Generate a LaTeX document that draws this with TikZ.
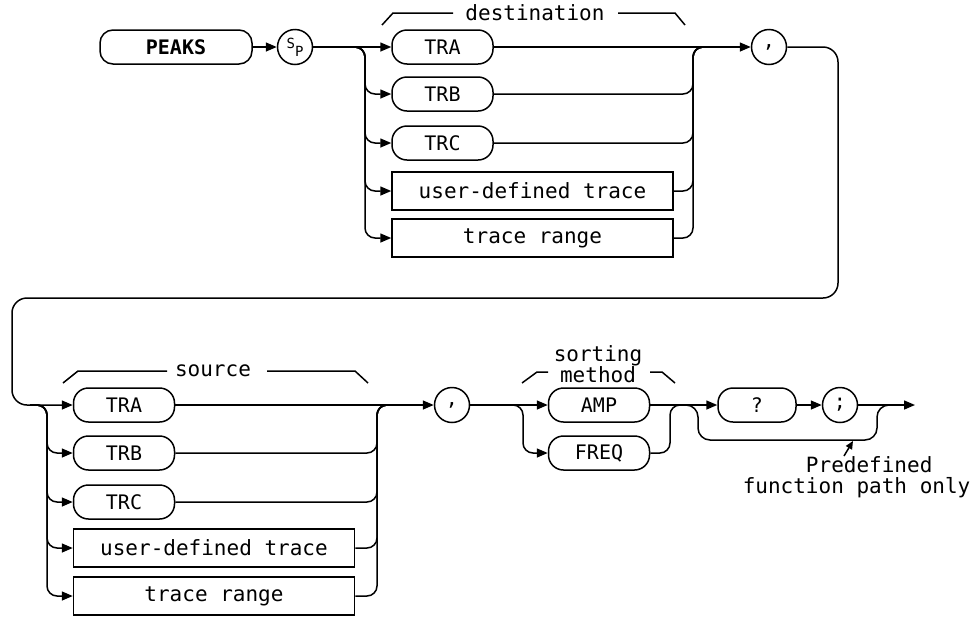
\documentclass[tikz,border=0pt]{standalone}
\usepackage{fontspec}
\newfontfamily\plotfont{DejaVu Sans Mono}
\usetikzlibrary{arrows.meta,positioning,calc}

\begin{document}
\begin{tikzpicture}[x=1pt,y=-1pt,line width=1.5pt,font=\plotfont\fontsize{20}{22}\selectfont]
  \tikzstyle{kwbox}=[rectangle,draw,rounded corners=15pt,minimum width=101pt,minimum height=34pt,inner sep=0pt]
  \tikzstyle{parbox}=[rectangle,draw,minimum width=281pt,minimum height=38pt,inner sep=0pt,font=\plotfont\fontsize{21}{22}\selectfont]
  \tikzstyle{litcirc}=[circle,draw,minimum size=35pt,inner sep=0pt]
  \tikzstyle{flow}=[-{Triangle[length=11pt,width=9pt]}]
  \tikzstyle{branch}=[rounded corners=10pt]
  \tikzstyle{lbl}=[font=\plotfont\fontsize{21}{16}\selectfont,inner sep=0pt,align=center]

  \useasboundingbox (0,0) rectangle (976,619);

  % first row: command and destination
  \node[kwbox,rounded corners=13pt,minimum width=152pt,font=\plotfont\bfseries\fontsize{20}{22}\selectfont] (peaks) at (176,47) {PEAKS};
  \node[litcirc] (sp) at (295,47) {\fontsize{14}{14}\selectfont\raisebox{3pt}{S}\raisebox{-5pt}{P}};
  \node[kwbox] (dTRA) at (442.5,47) {TRA};
  \node[kwbox] (dTRB) at (442.5,94) {TRB};
  \node[kwbox] (dTRC) at (442.5,143) {TRC};
  \node[parbox] (dUser) at (532.5,191) {user-defined trace};
  \node[parbox] (dRange) at (532.5,238) {trace range};
  \node[litcirc] (comma1) at (769,47) {,};
  \coordinate (dsplit) at (365,47);
  \coordinate (djoin) at (693,47);

  % second row: source and sorting method
  \node[kwbox] (sTRA) at (124,405) {TRA};
  \node[kwbox] (sTRB) at (124,453) {TRB};
  \node[kwbox] (sTRC) at (124,502) {TRC};
  \node[parbox] (sUser) at (214,548) {user-defined trace};
  \node[parbox] (sRange) at (214,596) {trace range};
  \node[litcirc] (comma2) at (452,405) {,};
  \node[kwbox] (amp) at (599,405) {AMP};
  \node[kwbox] (freq) at (599,453) {FREQ};
  \node[kwbox,minimum width=78pt] (query) at (757,405) {?};
  \node[litcirc] (semi) at (840,405) {;};
  \coordinate (lpA) at (838,298);
  \coordinate (lpB) at (12,405);
  \coordinate (lpC) at (30,405);
  \coordinate (ssplit) at (47,405);
  \coordinate (sjoin) at (377,405);
  \coordinate (msplit) at (523,405);
  \coordinate (mjoin) at (670,405);
  \coordinate (bsplit) at (698,405);
  \coordinate (bdown) at (698,440);
  \coordinate (bup) at (877,440);
  \coordinate (bjoin) at (877,405);
  \coordinate (exit) at (915,405);

  % labels over the groups
  \draw (382,25) -- (393,13) -- (453,13);
  \node[lbl] (dlbl) at (535,13) {destination};
  \draw (618,13) -- (675,13) -- (685,25);
  \draw (63,383) -- (78,371) -- (167,371);
  \node[lbl] (slbl) at (213,371) {source};
  \draw (267,371) -- (355,371) -- (368,383);
  \draw (522,383) -- (537,372) -- (548,372);
  \node[lbl] (mlbl) at (598,364) {sorting\\method};
  \draw (650,372) -- (662,372) -- (675,383);
  \node[lbl,align=left,anchor=north west,font=\plotfont\fontsize{21}{21}\selectfont] (note) at (742,456) {\phantom{xxxxx}Predefined\\function path only};
  \coordinate (ptail) at (844,456);
  \coordinate (ptip) at (853,441);

  % connectors
  \draw[flow] (peaks) -- (sp);
  \draw[flow] (sp) -- (dTRA);
  \draw[flow,branch] (sp.east) -- (dsplit) |- (dTRB.west);
  \draw[flow,branch] (sp.east) -- (dsplit) |- (dTRC.west);
  \draw[flow,branch] (sp.east) -- (dsplit) |- (dUser.west);
  \draw[flow,branch] (sp.east) -- (dsplit) |- (dRange.west);
  \draw[flow] (dTRA) -- (comma1);
  \draw[branch] (dTRB.east) -| (djoin) -- ++(20,0);
  \draw[branch] (dTRC.east) -| (djoin) -- ++(20,0);
  \draw[branch] (dUser.east) -| (djoin) -- ++(20,0);
  \draw[branch] (dRange.east) -| (djoin) -- ++(20,0);
  \draw[flow,rounded corners=15pt] (comma1.east) -| (lpA) -| (lpB) -- (sTRA.west);
  \draw[flow,branch] (lpC) -- (ssplit) |- (sTRB.west);
  \draw[flow,branch] (lpC) -- (ssplit) |- (sTRC.west);
  \draw[flow,branch] (lpC) -- (ssplit) |- (sUser.west);
  \draw[flow,branch] (lpC) -- (ssplit) |- (sRange.west);
  \draw[flow] (sTRA) -- (comma2);
  \draw[branch] (sTRB.east) -| (sjoin) -- ++(20,0);
  \draw[branch] (sTRC.east) -| (sjoin) -- ++(20,0);
  \draw[branch] (sUser.east) -| (sjoin) -- ++(20,0);
  \draw[branch] (sRange.east) -| (sjoin) -- ++(20,0);
  \draw[flow] (comma2) -- (amp);
  \draw[flow,branch] (comma2.east) -- (msplit) |- (freq.west);
  \draw[branch] (freq.east) -| (mjoin) -- ++(20,0);
  \draw[flow] (amp) -- (query);
  \draw[flow] (query) -- (semi);
  \draw[flow] (semi) -- (exit);
  \draw[rounded corners=12pt] (mjoin) -- (bsplit) -- (bdown) -- (bup) -- (bjoin) -- ++(15,0);
  \draw[-{Triangle[length=8pt,width=7pt]}] (ptail) -- (ptip);
\end{tikzpicture}
\end{document}
